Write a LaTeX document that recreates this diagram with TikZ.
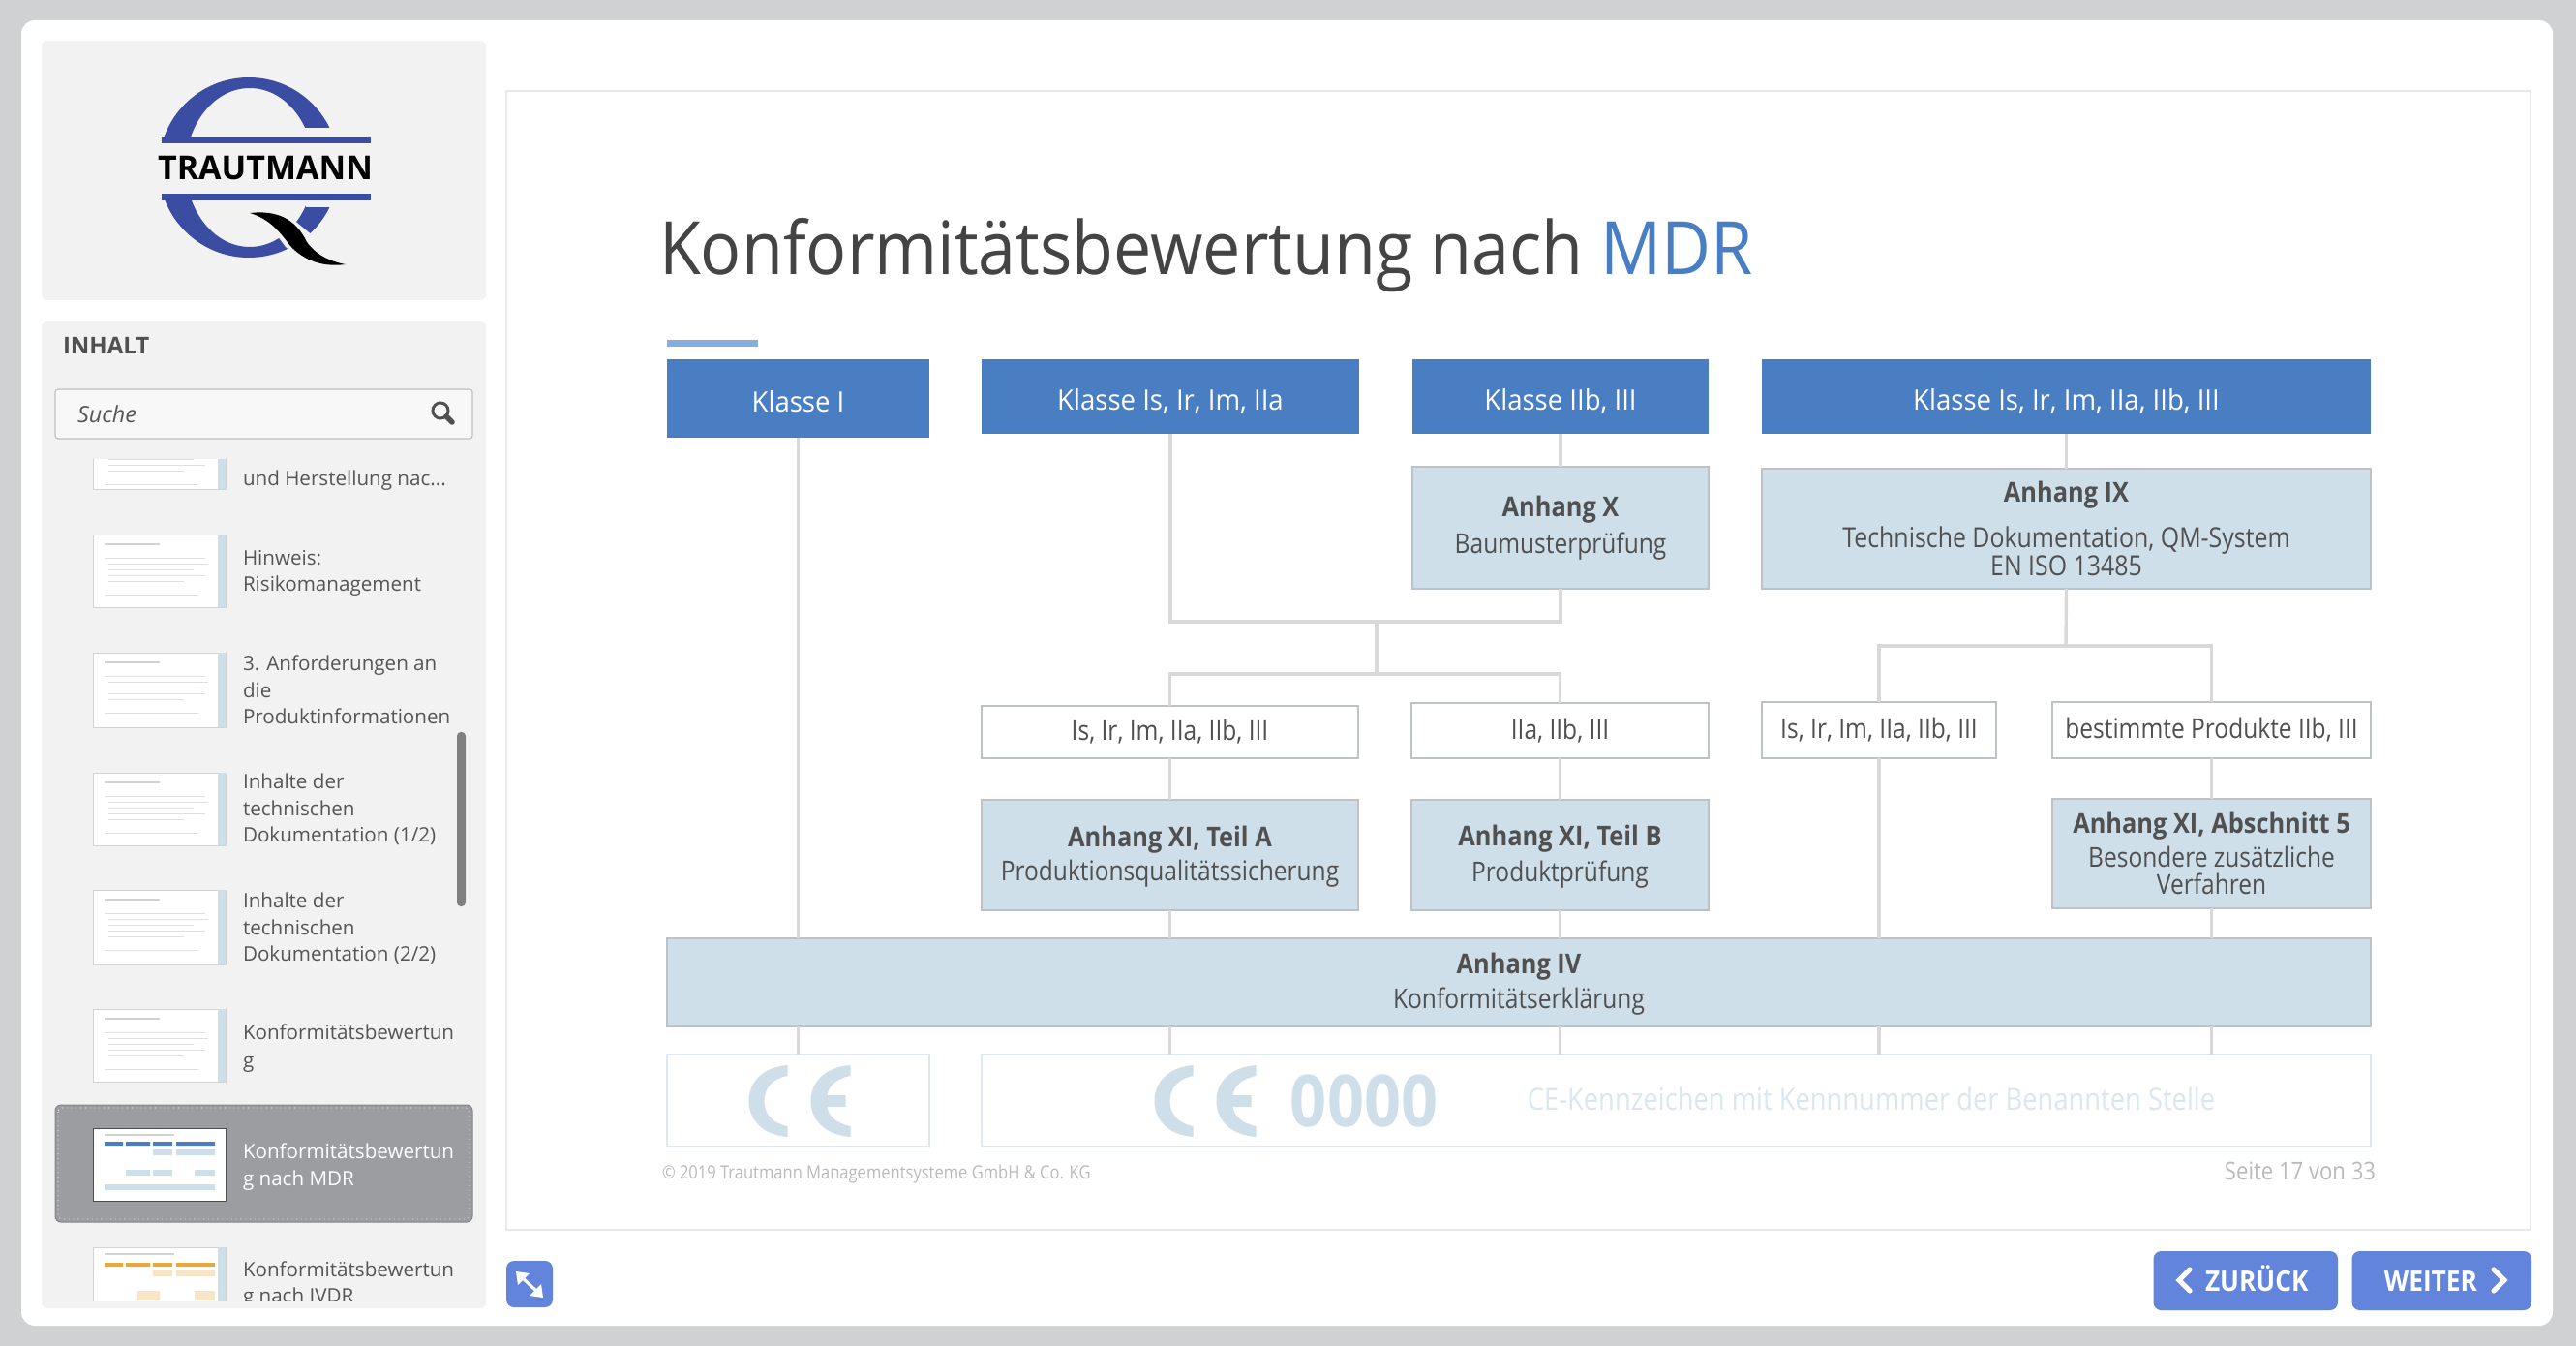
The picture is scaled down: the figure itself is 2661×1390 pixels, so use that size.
\documentclass[tikz,border=0pt]{standalone}
\usepackage{fontspec}
\setmainfont{Open Sans}
\newfontfamily\diag[FakeStretch=0.87]{Open Sans}
\newfontfamily\diagbold[FakeStretch=0.9]{Open Sans}
\newfontfamily\headf[FakeStretch=0.95]{Open Sans}
\newfontfamily\titlef[FakeStretch=0.92]{Open Sans}
\newcommand{\diagb}{\diagbold\bfseries}
\newfontfamily\sidefont{Open Sans}
\newcommand{\fsz}[1]{\fontsize{#1}{#1}\selectfont}
\definecolor{bggray}{HTML}{CFD1D3}
\definecolor{panel}{HTML}{F2F2F2}
\definecolor{frameline}{HTML}{E6E8EA}
\definecolor{headblue}{HTML}{4A7EC2}
\definecolor{accent}{HTML}{85AEDF}
\definecolor{paleblue}{HTML}{CEDFEA}
\definecolor{boxline}{HTML}{BCC2C6}
\definecolor{linegray}{HTML}{D9D9D9}
\definecolor{txt}{HTML}{505050}
\definecolor{sidetxt}{HTML}{555555}
\definecolor{btn}{HTML}{6285DB}
\definecolor{logoblue}{HTML}{3A4DA3}
\definecolor{ceblue}{HTML}{CEDFEA}
\definecolor{seltxt}{HTML}{9B9DA1}
\definecolor{thumbstrip}{HTML}{CEDFEA}
\definecolor{thumbline}{HTML}{D2D2D2}
\definecolor{orangebar}{HTML}{E8A93C}
\tikzset{
  x=0.5pt,y=-0.5pt,
  every node/.style={inner sep=0pt,outer sep=0pt},
  headbox/.style={fill=headblue,draw=none,text=white,font=\headf\fsz{14.5},align=center,text height=18pt,text depth=4pt},
  annexbox/.style={fill=paleblue,draw=boxline,line width=1pt,text=txt,font=\diag\fsz{14.1},align=center},
  classbox/.style={fill=white,draw=boxline,line width=0.8pt,text=txt,font=\diag\fsz{14.1},align=center},
  cebox/.style={fill=white,draw=paleblue!70,line width=0.9pt},
  conn/.style={draw=linegray,line width=1.7pt},
  thumb/.style={fill=white,draw=thumbline,line width=0.4pt},
  sidelabel/.style={anchor=west,text=sidetxt,font=\sidefont\fsz{10.3},text height=10.5pt,text depth=2.5pt},
  navbtn/.style={fill=btn,draw=none,rounded corners=4pt},
  navtext/.style={text=white,font=\diagb\fsz{14.6},text height=11pt,text depth=0pt},
  chev/.style={draw=white,line width=2.6pt,line cap=round,line join=miter},
}
\newcommand{\boxat}[6]{\node[#2,minimum width={(#5-#3)*0.5pt},minimum height={(#6-#4)*0.5pt}] (#1) at ({(#3+#5)/2},{(#4+#6)/2})}
\newcommand{\thumbbox}[2]{%
  \fill[white] (96,#1) rectangle (233,#2);
  \draw[thumb] (96,#1) rectangle (233,#2);
  \fill[thumbstrip] (225,#1) rectangle (233,#2);}
\newcommand{\thumblines}[1]{%
  \draw[thumbline,line width=0.7pt] (108,#1+10) -- (165,#1+10);
  \draw[thumbline!70,line width=0.4pt] (108,#1+24) -- (212,#1+24) (112,#1+30) -- (215,#1+30) (112,#1+36) -- (200,#1+36) (112,#1+42) -- (212,#1+42) (112,#1+48) -- (190,#1+48) (108,#1+62) -- (205,#1+62);}
\newcommand{\cemark}[1]{%
  \fill[ceblue] (#1+40,1100) .. controls (#1+14,1102) and (#1,1118) .. (#1,1137) .. controls (#1,1156) and (#1+14,1172) .. (#1+40,1174) -- (#1+40,1163) .. controls (#1+24,1160) and (#1+16,1150) .. (#1+16,1137) .. controls (#1+16,1124) and (#1+24,1114) .. (#1+40,1111) -- cycle;
  \fill[ceblue] (#1+105,1100) .. controls (#1+78,1102) and (#1+64,1118) .. (#1+64,1137) .. controls (#1+64,1156) and (#1+78,1172) .. (#1+105,1174) -- (#1+105,1163) .. controls (#1+90,1160) and (#1+82,1152) .. (#1+81,1143) -- (#1+100,1143) -- (#1+100,1131) -- (#1+81,1131) .. controls (#1+82,1122) and (#1+90,1114) .. (#1+105,1111) -- cycle;}
\begin{document}
\begin{tikzpicture}
\useasboundingbox (0,0) rectangle (2661,1390);
\fill[bggray] (0,0) rectangle (2661,1390);
\fill[white,rounded corners=7pt] (22,21) rectangle (2637,1369);
% left panels
\fill[panel,rounded corners=3pt] (43,42) rectangle (502,310);
\fill[panel,rounded corners=3pt] (43,332) rectangle (502,1351);
% logo
\begin{scope}
  \clip (160,70) rectangle (345,132) (160,132) rectangle (257,141);
  \fill[logoblue,even odd rule] (257,173) circle [radius=93] (258,173) ellipse [x radius=66,y radius=82];
\end{scope}
\begin{scope}
  \clip (160,207) rectangle (345,280);
  \fill[logoblue,even odd rule] (257,173) circle [radius=93] (258,173) ellipse [x radius=66,y radius=82];
\end{scope}
\fill[logoblue] (167,141) rectangle (383,148);
\fill[logoblue] (167,200) rectangle (383,207);
\fill[panel] (316,207) rectangle (345,214);
\fill[panel] (252,216) -- (290,216) -- (325,245) -- (345,266) -- (362,277) -- (320,277) -- (295,255) -- (280,235) -- cycle;
\fill[black] (258,220) .. controls (285,217) and (305,225) .. (317,250) .. controls (325,262) and (340,270) .. (357,273) .. controls (335,276) and (315,270) .. (300,254) .. controls (288,238) and (278,226) .. (258,220) -- cycle;
\node[font=\sidefont\bfseries\fsz{17},text=black,anchor=center] (logotext) at (274,173.5) {TRAUTMANN};
% contents head
\node[anchor=west,font=\sidefont\bfseries\fsz{12},text=txt] (inhalt) at (65,357) {INHALT};
\draw[fill=panel!50!white,draw=boxline,line width=0.6pt,rounded corners=1.5pt] (57,402) rectangle (488,453);
\node[anchor=west,font=\sidefont\itshape\fsz{11.7},text=sidetxt] (suche) at (80,428) {Suche};
\draw[txt,line width=1.5pt] (455,424) circle [radius=8];
\draw[txt,line width=2.8pt,line cap=round] (461,430) -- (467,436);
% thumbnails
\begin{scope}
  \clip (43,475) rectangle (502,1343);
  \thumbbox{440}{505}\thumblines{438}
  \thumbbox{552}{627}\thumblines{552}
  \thumbbox{674}{751}\thumblines{674}
  \thumbbox{798}{873}\thumblines{798}
  \thumbbox{919}{996}\thumblines{919}
  \thumbbox{1042}{1117}\thumblines{1042}
  \draw[fill=seltxt,draw=seltxt!85!black,line width=0.5pt,rounded corners=3pt] (57,1141) rectangle (488,1262);
  \draw[white,line width=0.4pt,dotted,rounded corners=2pt] (60,1144) rectangle (485,1259);
  \fill[white] (96,1165) rectangle (233,1240);
  \draw[black!70,line width=0.5pt] (96,1165) rectangle (233,1240);
  \draw[thumbline,line width=0.7pt] (108,1172) -- (180,1172);
  \fill[headblue] (108,1179) rectangle (127,1183) (130,1179) rectangle (155,1183) (158,1179) rectangle (178,1183) (182,1179) rectangle (222,1183);
  \fill[paleblue] (158,1187) rectangle (178,1193) (182,1187) rectangle (222,1193) (130,1208) rectangle (155,1214) (158,1208) rectangle (178,1214) (201,1208) rectangle (222,1214) (108,1223) rectangle (222,1229);
  \thumbbox{1288}{1375}
  \draw[thumbline,line width=0.7pt] (108,1295) -- (180,1295);
  \fill[orangebar] (108,1304) rectangle (127,1308) (130,1304) rectangle (155,1308) (158,1304) rectangle (178,1308) (182,1304) rectangle (222,1308);
  \fill[orangebar!30] (158,1312) rectangle (178,1318) (182,1312) rectangle (222,1318) (142,1333) rectangle (165,1343) (201,1333) rectangle (222,1343);
  \node[sidelabel] (s1) at (251,494) {und Herstellung nac...};
  \node[sidelabel] (s2a) at (251,575) {Hinweis:};
  \node[sidelabel] (s2b) at (251,602) {Risikomanagement};
  \node[sidelabel] (s3a) at (251,684) {3. Anforderungen an};
  \node[sidelabel] (s3b) at (251,712) {die};
  \node[sidelabel] (s3c) at (251,739) {Produktinformationen};
  \node[sidelabel] (s4a) at (251,806) {Inhalte der};
  \node[sidelabel] (s4b) at (251,834) {technischen};
  \node[sidelabel] (s4c) at (251,861) {Dokumentation (1/2)};
  \node[sidelabel] (s5a) at (251,929) {Inhalte der};
  \node[sidelabel] (s5b) at (251,957) {technischen};
  \node[sidelabel] (s5c) at (251,984) {Dokumentation (2/2)};
  \node[sidelabel] (s6a) at (251,1065) {Konformitätsbewertun};
  \node[sidelabel] (s6b) at (251,1094) {g};
  \node[sidelabel,text=white] (s7a) at (251,1188) {Konformitätsbewertun};
  \node[sidelabel,text=white] (s7b) at (251,1216) {g nach MDR};
  \node[sidelabel] (s8a) at (251,1310) {Konformitätsbewertun};
  \node[sidelabel] (s8b) at (251,1337) {g nach IVDR};
\end{scope}
\fill[black!50,rounded corners=2pt] (472,756) rectangle (481,936);
% slide frame
\draw[frameline,line width=0.7pt] (523,94) rectangle (2614,1270);
% title
\node[anchor=base west,font=\titlef\fsz{38},text=txt!85!black] (title) at (681,284) {Konformitätsbewertung nach \textcolor{headblue}{MDR}};
\fill[accent] (689,351) rectangle (783,358);
\coordinate (j1) at (1422,642);
\coordinate (j2) at (1422,696);
\coordinate (j3) at (2134,667);
% head boxes
\boxat{k1}{headbox}{689}{371}{960}{452} {Klasse I};
\boxat{k2}{headbox}{1014}{371}{1404}{448} {Klasse Is, Ir, Im, IIa};
\boxat{k3}{headbox}{1459}{371}{1765}{448} {Klasse IIb, III};
\boxat{k4}{headbox}{1820}{371}{2449}{448} {Klasse Is, Ir, Im, IIa, IIb, III};
% annexes
\boxat{ax}{annexbox}{1459}{482}{1765}{608} {{\diagb Anhang X}\\[4pt]Baumusterprüfung};
\boxat{aix}{annexbox}{1820}{484}{2449}{608} {{\diagb Anhang IX}\\[8pt]\fsz{14.3}Technische Dokumentation, QM-System\\[0.5pt]\fsz{14.3}EN ISO 13485};
\boxat{c1}{classbox}{1014}{729}{1403}{783} {Is, Ir, Im, IIa, IIb, III};
\boxat{c2}{classbox}{1458}{726}{1765}{783} {IIa, IIb, III};
\boxat{c3}{classbox}{1820}{725}{2062}{783} {Is, Ir, Im, IIa, IIb, III};
\boxat{c4}{classbox}{2120}{725}{2449}{783} {bestimmte Produkte IIb, III};
\boxat{xa}{annexbox,text depth=1.5pt}{1014}{826}{1403}{940} {{\diagb Anhang XI, Teil A}\\[3.5pt]Produktionsqualitätssicherung};
\boxat{xb}{annexbox,text depth=1.5pt}{1458}{826}{1765}{940} {{\diagb Anhang XI, Teil B}\\[3.5pt]Produktprüfung};
\boxat{x5}{annexbox}{2120}{825}{2449}{938} {{\diagb Anhang XI, Abschnitt 5}\\[3pt]Besondere zusätzliche\\[0pt]Verfahren};
\boxat{aiv}{annexbox,text depth=1.7pt}{689}{969}{2449}{1060} {{\diagb Anhang IV}\\[3pt]Konformitätserklärung};
\boxat{ce1}{cebox}{689}{1089}{960}{1184} {};
\boxat{ce2}{cebox}{1014}{1089}{2449}{1184} {};
% connectors
\draw[conn] (k1.south) -- (k1.south |- aiv.north);
\draw[conn] (k3.south) -- (ax.north);
\draw[conn,line join=miter] (k2.south) -- (k2.south |- j1) -- (ax.south |- j1) -- (ax.south);
\draw[conn] (j1) -- (j2);
\draw[conn,line join=miter] (c1.north) -- (c1.north |- j2) -- (c2.north |- j2) -- (c2.north);
\draw[conn] (k4.south) -- (aix.north);
\draw[conn] (aix.south) -- (j3);
\draw[conn,line join=miter] (c3.north) -- (c3.north |- j3) -- (c4.north |- j3) -- (c4.north);
\draw[conn] (c1.south) -- (xa.north);
\draw[conn] (c2.south) -- (xb.north);
\draw[conn] (c4.south) -- (x5.north);
\draw[conn] (xa.south) -- (xa.south |- aiv.north);
\draw[conn] (xb.south) -- (xb.south |- aiv.north);
\draw[conn] (x5.south) -- (x5.south |- aiv.north);
\draw[conn] (c3.south) -- (c3.south |- aiv.north);
\draw[conn] (k1.south |- aiv.south) -- (k1.south |- ce1.north);
\draw[conn] (xa.south |- aiv.south) -- (xa.south |- ce2.north);
\draw[conn] (xb.south |- aiv.south) -- (xb.south |- ce2.north);
\draw[conn] (c3.south |- aiv.south) -- (c3.south |- ce2.north);
\draw[conn] (x5.south |- aiv.south) -- (x5.south |- ce2.north);
% CE marks
\cemark{773.5}
\cemark{1192.5}
\node[anchor=center,font=\diagb\fsz{37},text=ceblue] (zeros) at (1409,1137) {0000};
\node[anchor=center,font=\diag\fsz{15.7},text=paleblue!75] (cetext) at (1933,1135) {CE-Kennzeichen mit Kennnummer der Benannten Stelle};
\node[anchor=west,font=\diag\fsz{9.5},text=black!27] (copy) at (684,1213) {© 2019 Trautmann Managementsysteme GmbH \& Co. KG};
\node[anchor=east,font=\diag\fsz{12.7},text=black!27] (page) at (2454,1209) {Seite 17 von 33};
% buttons
\fill[btn,rounded corners=4pt] (523,1302) rectangle (571,1350);
\draw[white,line width=1.6pt] (539,1319) -- (555,1334);
\fill[white] (533,1313) -- (547,1315) -- (535,1327) -- cycle;
\fill[white] (561,1340) -- (547,1338) -- (559,1326) -- cycle;
\fill[navbtn] (2224.5,1292) rectangle (2415,1353);
\fill[navbtn] (2429.5,1292) rectangle (2615,1353);
\node[navtext,anchor=west] (back) at (2278,1322) {ZURÜCK};
\node[navtext,anchor=east] (next) at (2559,1322) {WEITER};
\draw[chev] (2262,1311) -- (2251,1322) -- (2262,1333);
\draw[chev] (2576,1311) -- (2587,1322) -- (2576,1333);
\end{tikzpicture}
\end{document}
